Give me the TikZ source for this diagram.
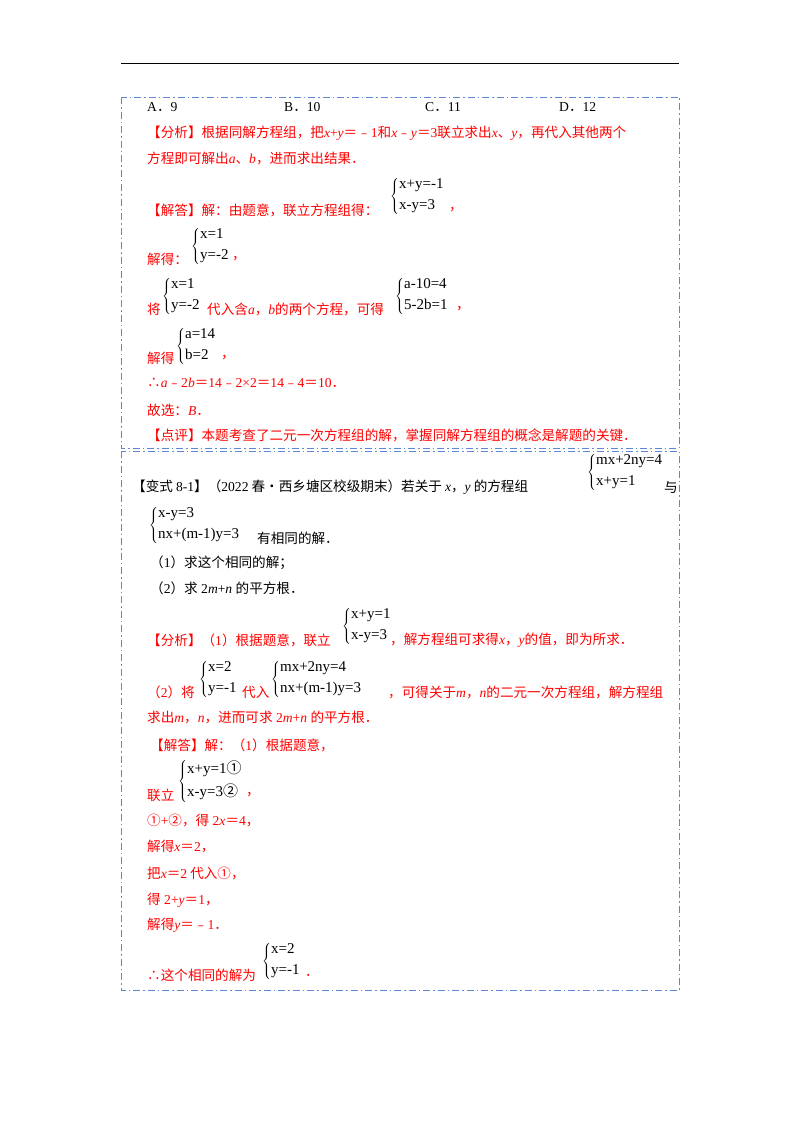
\documentclass[tikz,border=0pt]{standalone}
\usepackage{fontspec}
\setmainfont{Noto Sans CJK SC}
\newfontfamily\lser{Liberation Serif}
\newcommand{\vi}[1]{{\lser\itshape #1}}
\newcommand{\nr}[1]{{\lser #1}}
\newcommand{\sy}[2]{$\left\{\vrule height 17pt depth 15pt width 0pt\begin{array}{@{}l@{}}\mbox{\lser\fontsize{15}{17}\selectfont #1}\\[6pt]\mbox{\lser\fontsize{15}{17}\selectfont #2}\end{array}\right.$}
\definecolor{rd}{RGB}{255,0,0}
\definecolor{bl}{RGB}{95,135,215}
\begin{document}
\begin{tikzpicture}[x=1pt,y=-1pt,
 t/.style={anchor=west,inner sep=0,font=\fontsize{13.6}{15}\selectfont,text=rd},
 k/.style={t,text=black},
 sys/.style={anchor=west,inner sep=0,font=\fontsize{13}{15}\selectfont,text=black},
 box/.style={draw=bl,line width=0.8pt,dash pattern=on 7pt off 3pt on 1.5pt off 3pt}]
\useasboundingbox (0,0) rectangle (800,1132);
\draw[line width=0.8pt] (121,63) -- (679,63);
\draw[box] (121,97) rectangle (679,448);
\draw[box] (121,451) rectangle (679,990);
% box 1
\node[k] (a) at (147,107) {\nr{A}．\nr{9}};
\node[k] (b) at (284,107) {\nr{B}．\nr{10}};
\node[k] (c) at (425,107) {\nr{C}．\nr{11}};
\node[k] (d) at (559,107) {\nr{D}．\nr{12}};
\node[t] (f1) at (147,133) {【分析】根据同解方程组，把\vi{x}\nr{+}\vi{y}＝﹣\nr{1}和\vi{x}﹣\vi{y}＝\nr{3}联立求出\vi{x}、\vi{y}，再代入其他两个};
\node[t] (f2) at (147,158) {方程即可解出\vi{a}、\vi{b}，进而求出结果．};
\node[t] (j1) at (147,210) {【解答】解：由题意，联立方程组得：};
\node[sys] (s1) at (390,196) {\sy{x+y=-1}{x-y=3}};
\node[t] (j1c) at (449,210) {，};
\node[t] (j2) at (147,259) {解得：};
\node[sys] (s2) at (191,246) {\sy{x=1}{y=-2}};
\node[t] (j2c) at (232,259) {，};
\node[t] (j3) at (147,309) {将};
\node[sys] (s3) at (162,296) {\sy{x=1}{y=-2}};
\node[t] (j3b) at (207,309) {代入含\vi{a}，\vi{b}的两个方程，可得};
\node[sys] (s4) at (395,296) {\sy{a-10=4}{5-2b=1}};
\node[t] (j3c) at (456,309) {，};
\node[t] (j4) at (147,358) {解得};
\node[sys] (s5) at (176,346) {\sy{a=14}{b=2}};
\node[t] (j4c) at (221,358) {，};
\node[t] (j5) at (147,383) {∴\vi{a}﹣\nr{2}\vi{b}＝\nr{14}﹣\nr{2×2}＝\nr{14}﹣\nr{4}＝\nr{10}．};
\node[t] (j6) at (147,410) {故选：\vi{B}．};
\node[t] (j7) at (147,435) {【点评】本题考查了二元一次方程组的解，掌握同解方程组的概念是解题的关键．};
% box 2
\node[k] (v1) at (132,487) {【变式 \nr{8-1}】（\nr{2022} 春•西乡塘区校级期末）若关于 \vi{x}，\vi{y} 的方程组};
\node[sys] (s6) at (587,472) {\sy{mx+2ny=4}{x+y=1}};
\node[k] (v1b) at (664,487) {与};
\node[sys] (s7) at (149,525) {\sy{x-y=3}{nx+(m-1)y=3}};
\node[k] (v2) at (257,538) {有相同的解．};
\node[k] (v3) at (150,563) {（\nr{1}）求这个相同的解；};
\node[k] (v4) at (150,588) {（\nr{2}）求\nr{ 2}\vi{m}\nr{+}\vi{n}\nr{ }的平方根．};
\node[t] (g1) at (147,640) {【分析】（\nr{1}）根据题意，联立};
\node[sys] (s8) at (342,626) {\sy{x+y=1}{x-y=3}};
\node[t] (g1b) at (390,640) {，解方程组可求得\vi{x}，\vi{y}的值，即为所求．};
\node[t] (g2) at (147,692) {（\nr{2}）将};
\node[sys] (s9) at (199,679) {\sy{x=2}{y=-1}};
\node[t] (g2b) at (242,692) {代入};
\node[sys] (s10) at (271,679) {\sy{mx+2ny=4}{nx+(m-1)y=3}};
\node[t] (g2c) at (388,692) {，可得关于\vi{m}，\vi{n}的二元一次方程组，解方程组};
\node[t] (g3) at (147,717) {求出\vi{m}，\vi{n}，进而可求\nr{ 2}\vi{m}\nr{+}\vi{n}\nr{ }的平方根．};
\node[t] (h1) at (150,745) {【解答】解：（\nr{1}）根据题意，};
\node[t] (h2) at (147,795) {联立};
\node[sys] (s11) at (178,781) {$\left\{\vrule height 17pt depth 15pt width 0pt\begin{array}{@{}l@{}}\mbox{\lser\fontsize{15}{17}\selectfont x+y=1\rmfamily①}\\[6pt]\mbox{\lser\fontsize{15}{17}\selectfont x-y=3\rmfamily②}\end{array}\right.$};
\node[t] (h2c) at (246,795) {，};
\node[t] (h3) at (147,820) {①\nr{+}②，得\nr{ 2}\vi{x}＝\nr{4}，};
\node[t] (h4) at (147,846) {解得\vi{x}＝\nr{2}，};
\node[t] (h5) at (147,873) {把\vi{x}＝\nr{2} 代入①，};
\node[t] (h6) at (147,900) {得\nr{ 2+}\vi{y}＝\nr{1}，};
\node[t] (h7) at (147,925) {解得\vi{y}＝﹣\nr{1}．};
\node[t] (h8) at (147,975) {∴这个相同的解为};
\node[sys] (s12) at (262,961) {\sy{x=2}{y=-1}};
\node[t] (h8c) at (305,975) {．};
\end{tikzpicture}
\end{document}
